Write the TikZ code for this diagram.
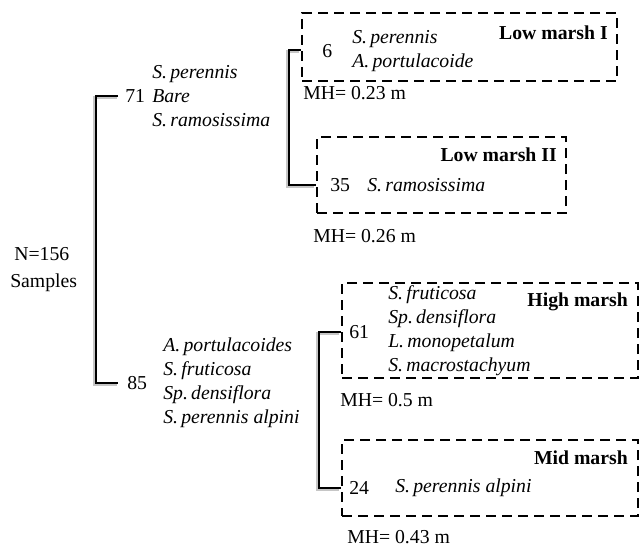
\documentclass[tikz,border=0pt]{standalone}
\usepackage{fontspec}
\setmainfont{Liberation Serif}
\usetikzlibrary{fit}
\begin{document}
\begin{tikzpicture}[x=0.75pt,y=-0.75pt,
  txt/.style={inner sep=0pt, anchor=west, align=left, font=\fontsize{14.8}{18}\selectfont},
  sp/.style={txt, font=\fontsize{14.8}{18}\selectfont\itshape},
  num/.style={inner sep=0pt, anchor=west, font=\fontsize{14.8}{18}\selectfont},
  lbl/.style={inner sep=0pt, anchor=east, font=\fontsize{14.8}{18}\selectfont\bfseries},
  marshbox/.style={draw, line width=2.1pt, dash pattern=on 7.5pt off 4.5pt, inner sep=0pt},
  br/.style={line width=2pt, black},
  brshadow/.style={line width=2pt, gray!45, transform canvas={xshift=-0.9pt,yshift=-0.9pt}}]
\useasboundingbox (0,0) rectangle (641,549);

% left labels
\node[txt] (nn) at (14,254) {N=156};
\node[txt] (samp) at (10,283) {Samples};

% first level numbers and species
\node[num] (n71) at (125,96) {71};
\node[num] (n85) at (127,383) {85};
\node[sp] (g1) at (152,96) {S.\,perennis\\Bare\\S.\,ramosissima};
\node[sp] (g2) at (163,383) {A.\,portulacoides\\S.\,fruticosa\\Sp.\,densiflora\\S.\,perennis alpini};

% boxes
\node[marshbox, fit={(302,13) (617,81)}] (box1) {};
\node[marshbox, fit={(317,137) (566,213)}] (box2) {};
\node[marshbox, fit={(342,283) (638,378)}] (box3) {};
\node[marshbox, fit={(342,440) (638,516)}] (box4) {};

% box contents
\node[lbl] (l1) at (608,33) {Low marsh I};
\node[num] (n6) at (322,51) {6};
\node[sp] (s1) at (352,51.5) {S.\,perennis\\A.\,portulacoide};
\node[txt] (mh1) at (303,93) {MH= 0.23 m};

\node[lbl] (l2) at (557,155) {Low marsh II};
\node[num] (n35) at (330,185) {35};
\node[sp] (s2) at (367,185) {S.\,ramosissima};
\node[txt] (mh2) at (313,236) {MH= 0.26 m};

\node[lbl] (l3) at (628,302) {High marsh};
\node[num] (n61) at (349,332) {61};
\node[sp] (s3) at (388,331) {S.\,fruticosa\\Sp.\,densiflora\\L.\,monopetalum\\S.\,macrostachyum};
\node[txt] (mh3) at (340,400) {MH= 0.5 m};

\node[lbl] (l4) at (628,458) {Mid marsh};
\node[num] (n24) at (349,488) {24};
\node[sp] (s4) at (395,488) {S.\,perennis alpini};
\node[txt] (mh4) at (347,537) {MH= 0.43 m};

% bracket coordinates
\coordinate (root) at (96,240);
\coordinate (sub1) at (289,120);
\coordinate (sub2) at (319,410);
\coordinate (t1) at (118,96);
\coordinate (t2) at (118,383);

% brackets: shadows
\draw[brshadow] (t1) -| (root) |- (t2);
\draw[brshadow] (box1.west |- 0,50) -| (sub1) |- (box2.west |- n35);
\draw[brshadow] (box3.west |- n61) -| (sub2) |- (box4.west |- n24);
% brackets
\draw[br] (t1) -| (root) |- (t2);
\draw[br] (box1.west |- 0,50) -| (sub1) |- (box2.west |- n35);
\draw[br] (box3.west |- n61) -| (sub2) |- (box4.west |- n24);
\end{tikzpicture}
\end{document}
